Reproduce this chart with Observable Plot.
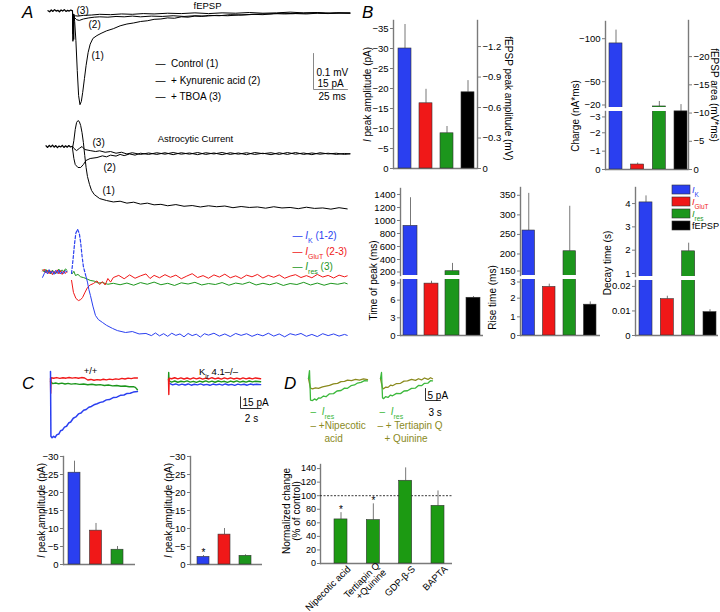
<!DOCTYPE html>
<html><head><meta charset="utf-8">
<script src="https://cdn.jsdelivr.net/npm/d3@7"></script>
<script src="https://cdn.jsdelivr.net/npm/@observablehq/plot@0.6"></script>
<style>
body{margin:0;background:#fff;}
#fig{position:relative;width:720px;height:612px;overflow:hidden;background:#fff;font-family:Arial,"Liberation Sans",Helvetica,sans-serif;}
#fig svg{position:absolute;overflow:visible;background:transparent;max-width:none;}
.letter{position:absolute;font-style:italic;font-size:17px;line-height:17px;font-family:Arial,"Liberation Sans",Helvetica,sans-serif;}
</style></head>
<body><div id="fig"></div>
<script>
// ===================== DATA =====================
// Panel A: traces [time (ms), value]; fEPSP in mV, currents in pA
const fepspPre = [[-18,0.005],[-16.8,0.002],[-15.6,0.007],[-14.4,0.003],[-13.2,0.008],[-12,0.004],[-10.8,0.006],[-9.6,0.002],[-8.4,0.007],[-7.2,0.004],[-6,0.008],[-4.8,0.003],[-3.6,0.006],[-2.4,0.004],[-1.2,0.007],[0,0.004]];
const fepspControl = [[0,0.004],[0.3,-0.08],[0.6,-0.005],[0.9,-0.075],[1.2,-0.01],[1.6,-0.025],[2.5,-0.078],[3.5,-0.161],[4.5,-0.231],[5.5,-0.256],[6.5,-0.247],[7.5,-0.222],[8.8,-0.183],[10,-0.147],[11.5,-0.111],[13,-0.088],[15,-0.072],[18,-0.064],[21,-0.058],[25,-0.051],[30,-0.045],[35,-0.037],[40,-0.032],[45,-0.029],[50,-0.025],[55,-0.023],[60,-0.019],[65,-0.018],[70,-0.015],[75,-0.016],[80,-0.012],[85,-0.013],[90,-0.010],[95,-0.011],[100,-0.008],[108,-0.009],[116,-0.006],[124,-0.007],[132,-0.005],[140,-0.006],[148,-0.003],[156,-0.004],[164,-0.003],[172,-0.004],[180,-0.002],[188,-0.003],[196,-0.001],[204,-0.002]];
const fepspKyn = [[0,0.004],[0.4,-0.06],[0.8,-0.004],[1.5,-0.014],[3,-0.02],[5,-0.022],[8,-0.018],[12,-0.015],[16,-0.013],[20,-0.012],[26,-0.013],[32,-0.011],[38,-0.012],[44,-0.010],[50,-0.012],[58,-0.010],[66,-0.011],[74,-0.009],[82,-0.011],[90,-0.009],[98,-0.010],[106,-0.008],[114,-0.009],[122,-0.007],[130,-0.006],[138,-0.004],[146,-0.004],[154,-0.002],[162,-0.003],[170,-0.002],[178,-0.001],[186,-0.002],[194,-0.001],[204,-0.002]];
const fepspTboa = [[0,0.004],[0.5,-0.04],[1,-0.006],[2,-0.009],[4,-0.010],[8,-0.008],[14,-0.007],[20,-0.005],[28,-0.006],[36,-0.004],[44,-0.005],[52,-0.003],[60,-0.004],[70,-0.002],[80,-0.003],[90,-0.001],[100,-0.003],[110,-0.001],[120,-0.002],[130,-0.000],[140,-0.002],[150,-0.001],[160,0.001],[170,-0.001],[180,0.000],[190,-0.002],[204,-0.001]];

const astroPre = [[-19.5,0.3],[-18.3,-0.4],[-17.1,0.5],[-15.9,-0.2],[-14.7,0.6],[-13.5,-0.3],[-12.3,0.4],[-11.1,-0.5],[-9.9,0.2],[-8.7,-0.2],[-7.5,0.5],[-6.3,-0.4],[-5.1,0.3],[-3.9,-0.3],[-2.7,0.4],[-1.5,-0.2],[0,0.1]];
const astroControl = [[0,-0.8],[1,2.5],[2,7.1],[3,10],[4,10.8],[5,10.4],[6,8.75],[7,5.8],[8,1.7],[9,-3.75],[10,-8.75],[11,-12.5],[12.5,-15.8],[14,-18.3],[16,-20],[20,-21.7],[25,-22.5],[30,-23.1],[35,-22.8],[40,-23.6],[45,-23.2],[50,-24.0],[55,-23.6],[60,-24.3],[65,-24.1],[70,-24.7],[76,-24.2],[82,-24.9],[88,-24.6],[94,-25.2],[100,-24.7],[106,-25.1],[112,-24.8],[118,-25.5],[124,-25.0],[130,-25.4],[136,-25.2],[142,-25.7],[148,-25.1],[154,-25.6],[160,-25.4],[166,-25.9],[172,-25.3],[178,-25.8],[184,-25.6],[190,-26.1],[196,-25.5],[202,-26.0]];
const astroKyn = [[0,-0.8],[1,-5],[2,-7.5],[4,-8.75],[6,-8.75],[8,-7.5],[10,-5.8],[13,-5],[18,-4.6],[22,-3.9],[25,-4.3],[28,-3.6],[32,-4.0],[35,-3.3],[38,-3.8],[42,-3.1],[46,-3.6],[50,-2.8],[56,-3.3],[62,-2.6],[68,-3.2],[74,-2.5],[80,-3.2],[86,-2.7],[92,-3.4],[98,-2.6],[104,-3.1],[110,-2.5],[116,-3.3],[122,-2.7],[128,-3.4],[134,-2.5],[140,-3.0],[146,-2.6],[152,-3.3],[158,-2.5],[164,-3.2],[170,-2.7],[176,-3.4],[182,-2.6],[188,-3.1],[194,-2.8],[200,-3.3],[204,-3.0]];
const astroTboa = [[0,0],[1,-0.8],[3,-1.7],[5,-0.8],[7,0],[9,-1.25],[13,-1.7],[17,-2.1],[20,-1.8],[24,-2.4],[28,-2.1],[32,-2.8],[36,-2.4],[40,-3.1],[44,-2.6],[50,-3.3],[56,-2.7],[62,-3.3],[68,-2.6],[74,-3.4],[80,-2.6],[86,-3.2],[92,-2.5],[98,-3.3],[104,-2.7],[110,-3.4],[116,-2.6],[122,-3.2],[128,-2.6],[134,-3.3],[140,-2.8],[146,-3.4],[152,-2.6],[158,-3.3],[164,-2.5],[170,-3.3],[176,-2.7],[182,-3.2],[188,-2.8],[194,-3.3],[200,-2.9],[204,-3.1]];

const subPreK = [[-22,-2],[-20.8,-0.5],[-19.6,0.8],[-18.4,-0.6],[-17.2,1.2],[-16,-0.3],[-14.8,0.6],[-13.6,-0.8],[-12.4,0.9],[-11.2,-0.4],[-10,1.0],[-8.8,-0.6],[-7.6,0.4],[-6.4,-0.5],[-5.2,0.8],[-4,0.2]];
const subPreGluT = [[-22,0.6],[-20.8,1.4],[-19.6,-0.2],[-18.4,0.9],[-17.2,-0.5],[-16,0.7],[-14.8,-0.9],[-13.6,0.5],[-12.4,-0.3],[-11.2,1.1],[-10,-0.6],[-8.8,0.8],[-7.6,-0.8],[-6.4,0.6],[-5.2,-0.4],[-4,0.5]];
const subPreRes = [[-22,1.1],[-20.8,0.2],[-19.6,1.3],[-18.4,0.1],[-17.2,0.9],[-16,-0.6],[-14.8,1.0],[-13.6,0.3],[-12.4,-0.5],[-11.2,0.6],[-10,1.4],[-8.8,0.2],[-7.6,1.1],[-6.4,0.4],[-5.2,1.5],[-4,0.9]];
const subKDashed = [[-0.7,-0.4],[0.5,6],[1.5,12],[2.5,16.5],[3.7,18],[5,16.3],[6,12.5],[7,7],[8,2.5],[9.6,-1]];
const subK = [[9.6,-1],[11,-4],[12,-7],[13.2,-9.6],[15,-14],[16.9,-17.9],[19,-19.6],[22,-20.8],[25,-22],[29.4,-23.3],[33,-24.2],[39,-25],[44,-24.6],[49,-25.6],[54,-25.4],[58,-26.3],[61,-25.2],[64,-26.4],[67,-25.5],[70,-26.6],[73,-25.3],[76,-26.2],[79,-25.6],[82,-26.8],[85,-25.4],[88,-26.3],[91,-25.7],[94,-26.9],[97,-25.5],[100,-26.1],[104,-25.3],[108,-26.5],[112,-25.6],[116,-26.7],[120,-25.4],[124,-26.2],[128,-25.5],[132,-26.6],[136,-25.7],[140,-26.4],[144,-25.3],[148,-26.5],[152,-25.6],[156,-26.8],[160,-25.5],[164,-26.1],[168,-25.4],[172,-26.6],[176,-25.8],[180,-26.7],[184,-25.5],[188,-26.3],[192,-25.6],[196,-26.5],[200,-25.8],[202,-26.2]];
const subGluT = [[-0.7,-3.3],[0.7,-8.3],[2.5,-10.8],[4.4,-11.7],[6,-11.3],[7.4,-10.4],[9,-8.5],[11,-6.25],[13,-5.2],[15.4,-4.6],[18,-3.5],[20,-5.0],[22,-3.8],[24,-5.2],[26,-2.5],[28,-4.0],[30,-2.1],[34,-1.2],[38,-2.6],[42,-1.0],[46,-2.4],[50,-1.4],[54,-0.6],[57,-2.5],[60,-1.2],[64,-2.2],[68,-0.9],[72,-2.0],[76,-1.1],[80,-2.6],[84,-1.5],[88,-0.5],[92,-2.1],[96,-1.3],[100,-2.4],[104,-1.0],[108,-1.9],[112,-0.7],[116,-2.2],[120,-1.4],[124,-2.5],[128,-1.1],[132,-1.8],[136,-0.8],[140,-2.3],[144,-1.2],[148,-2.0],[152,-1.0],[156,-2.4],[160,-1.5],[164,-0.9],[168,-2.1],[172,-1.3],[176,-2.2],[180,-0.8],[184,-1.9],[188,-1.2],[192,-2.3],[196,-1.1],[200,-1.8],[202,-1.4]];
const subRes = [[0,-0.4],[1,0.5],[2.2,-1.25],[4,-0.8],[6,-1.8],[8,-2.1],[10,-2.5],[13,-3.3],[16,-3.6],[19,-4.4],[22,-4.2],[26,-4.9],[30,-4.5],[35,-5.1],[40,-4.4],[45,-5.3],[50,-4.2],[55,-4.9],[60,-4.0],[65,-5.1],[70,-4.5],[75,-5.4],[80,-4.3],[85,-4.8],[90,-4.1],[95,-5.2],[100,-4.6],[105,-5.0],[110,-4.2],[115,-5.3],[120,-4.4],[125,-4.9],[130,-4.0],[135,-5.2],[140,-4.5],[145,-5.1],[150,-4.3],[155,-5.4],[160,-4.6],[165,-5.0],[170,-4.1],[175,-5.2],[180,-4.4],[185,-5.3],[190,-4.5],[195,-4.9],[200,-4.3],[202,-4.7]];
const scaleA = {mV: 0.1, pA: 15, ms: 25};

// Panel B: means and SEM
const groupsB = ["IK", "IGluT", "Ires", "fEPSP"];
const peakAmp_pA = [-30.0, -16.3, -8.8];          const peakAmpErr_pA = [6.0, 3.5, 1.7];
const fepspPeak_mV = [-0.75];                      const fepspPeakErr_mV = [0.115];
const charge_nAms = [-94.5, -0.27, -21.2];         const chargeErr_nAms = [15.5, 0.08, 5.8];
const fepspArea_mVms = [-10.3];                    const fepspAreaErr_mVms = [1.2];
const timeOfPeak_ms = [917, 8.8, 220, 6.4];        const timeOfPeakErr_ms = [433, 0.4, 120, 0.2];
const riseTime_ms = [260, 2.6, 207, 1.65];         const riseTimeErr_ms = [95, 0.15, 115, 0.15];
const decayTime_s = [4.05, 0.0148, 1.95, 0.0095];  const decayTimeErr_s = [0.28, 0.0012, 0.35, 0.001];

// Panel C: example traces [time (s), pA] and peak amplitudes
const wtK = [[0,9],[0.04,-74],[0.15,-76],[0.3,-74.2],[0.45,-75.6],[0.6,-72.3],[0.8,-71.2],[0.97,-67],[1.15,-66.1],[1.35,-62.3],[1.55,-61.2],[1.75,-57.1],[1.95,-55.8],[2.2,-51],[2.45,-49.3],[2.7,-45.4],[2.95,-44.2],[3.2,-40.8],[3.45,-39.7],[3.7,-36.9],[3.95,-35.8],[4.2,-33.7],[4.5,-32.4],[4.8,-30.6],[5.1,-29.7],[5.4,-27.4],[5.7,-27.0],[6.1,-24.3],[6.4,-23.9],[6.8,-21.4],[7.1,-21.2],[7.4,-19.1],[7.7,-19.0],[8.0,-17.4],[8.4,-16.8]];
const wtGluT = [[0,0],[0.02,-19],[0.06,1],[0.3,0.3],[0.6,1.2],[0.9,0.2],[1.2,1.0],[1.5,0.4],[1.8,1.3],[2.1,0.5],[2.4,1.1],[2.7,0.3],[3.0,1.2],[3.3,0.6],[3.6,-1.9],[3.9,-1.2],[4.2,-2.3],[4.5,-1.4],[4.8,-2.0],[5.1,-1.0],[5.4,-1.8],[5.7,-0.8],[6.0,-1.5],[6.3,-0.5],[6.6,-1.1],[6.9,0.1],[7.2,-0.6],[7.5,0.5],[7.8,-0.2],[8.1,0.8],[8.4,0.6]];
const wtRes = [[0,-4],[0.2,-6.5],[0.5,-5.8],[0.8,-6.8],[1.1,-6.0],[1.4,-7.0],[1.7,-6.2],[2.0,-7.2],[2.4,-6.6],[2.8,-7.6],[3.2,-7.0],[3.6,-8.0],[4.0,-7.4],[4.4,-8.4],[4.8,-7.9],[5.2,-8.9],[5.6,-8.4],[6.0,-9.4],[6.4,-8.9],[6.8,-9.9],[7.2,-9.6],[7.6,-10.6],[8.0,-10.4],[8.2,-11.4],[8.4,-14.5]];
const kirK = [[0.15,-6.5],[0.4,-8.2],[0.7,-7.0],[1.0,-8.5],[1.3,-7.2],[1.6,-8.3],[1.9,-7.0],[2.2,-8.6],[2.5,-7.4],[2.8,-8.1],[3.1,-6.9],[3.4,-8.4],[3.7,-7.5],[4.0,-8.7],[4.3,-7.1],[4.6,-8.2],[4.9,-7.3],[5.2,-8.5],[5.5,-7.0],[5.8,-8.3],[6.1,-7.6],[6.4,-8.8],[6.7,-7.2],[7.0,-8.1],[7.3,-7.4],[7.6,-8.6],[7.9,-7.1],[8.2,-8.0],[8.5,-7.3],[8.9,-7.9]];
const kirGluT = [[0,-1],[0.03,-20.5],[0.07,0.5],[0.3,-0.3],[0.6,1.0],[0.9,-0.5],[1.2,0.8],[1.5,-0.6],[1.8,0.6],[2.1,-0.8],[2.4,0.9],[2.7,-0.4],[3.0,0.7],[3.3,-0.7],[3.6,0.5],[3.9,-0.6],[4.2,1.0],[4.5,-0.4],[4.8,0.6],[5.1,-0.8],[5.4,0.7],[5.7,-0.5],[6.0,0.9],[6.3,-0.6],[6.6,0.4],[6.9,-0.7],[7.2,0.8],[7.5,-0.4],[7.8,0.6],[8.1,-0.5],[8.4,0.7],[8.9,-0.3]];
const kirRes = [[0,-2],[0.02,7.7],[0.05,-3],[0.3,-4.6],[0.6,-3.2],[0.9,-4.8],[1.2,-3.5],[1.5,-4.4],[1.8,-3.1],[2.1,-4.7],[2.4,-3.6],[2.7,-4.9],[3.0,-3.3],[3.3,-4.5],[3.6,-3.0],[3.9,-4.6],[4.2,-3.4],[4.5,-4.8],[4.8,-3.2],[5.1,-4.4],[5.4,-3.6],[5.7,-4.9],[6.0,-3.3],[6.3,-4.5],[6.6,-3.1],[6.9,-4.7],[7.2,-3.5],[7.5,-4.6],[7.8,-3.2],[8.1,-4.4],[8.4,-3.6],[8.9,-4.2]];
const scaleC = {pA: 15, s: 2};
const groupsC = ["IK", "IGluT", "Ires"];
const wtPeak_pA = [-25.5, -9.4, -4.1];   const wtPeakErr_pA = [3.2, 2.0, 0.9];
const kirPeak_pA = [-2.1, -8.3, -2.4];   const kirPeakErr_pA = [0.4, 1.7, 0.3];
const kirSig = ["*", "", ""];

// Panel D: example traces [time (s), pA] and normalized changes
const resNip = [[0,0],[0.2,3.3],[0.4,-9],[0.8,-9.2],[1.2,-8.5],[1.6,-9.0],[2.0,-8.1],[2.4,-8.2],[3.0,-7.3],[3.5,-7.6],[4.2,-6.4],[5.0,-6.3],[5.7,-5.2],[6.5,-5.0],[7.2,-4.0],[7.8,-4.1],[8.5,-3.0],[9.2,-2.7],[9.8,-1.9],[10.5,-1.6],[11.2,-0.9],[11.8,-1.0]];
const nipecotic = [[0,0],[0.4,-4],[0.8,-4.3],[1.4,-3.9],[2.0,-4.1],[2.8,-3.5],[3.5,-3.2],[4.2,-2.9],[5.0,-2.2],[5.8,-2.0],[6.5,-1.3],[7.2,-1.2],[7.8,-0.7],[8.6,-0.9],[9.4,-0.4],[10.2,-0.7],[11.0,-0.2],[11.8,-0.5]];
const resTQ = [[0,0],[0.2,2.5],[0.4,-8],[0.6,-8.4],[1.0,-7.6],[1.5,-7.9],[2.0,-6.9],[2.4,-7.2],[3.2,-6.2],[4.0,-6.3],[4.7,-5.2],[5.4,-5.1],[6.2,-4.1],[7.0,-4.0],[7.6,-2.9],[8.2,-3.0],[8.8,-2.0],[9.5,-1.9],[10.0,-0.9],[10.4,-1.0]];
const tertiapinQuinine = [[0,0],[0.4,-4],[0.6,-4.3],[1.0,-3.6],[1.5,-3.7],[2.0,-2.8],[2.4,-3.0],[3.2,-2.1],[4.0,-2.0],[4.7,-1.1],[5.4,-1.0],[6.2,-0.4],[7.0,-0.8],[7.6,-0.1],[8.2,-0.6],[8.8,0.2],[9.5,-0.4],[10.0,0.3],[10.4,-0.1]];
const scaleD = {pA: 5, s: 3};
const drugsD = ["Nipecotic acid", "Tertiapin Q\n+Quinine", "GDP-\u03b2-S", "BAPTA"];
const normChange_pct = [65, 64, 122, 85];
const normChangeErr_pct = [10, 24, 19, 22];
const drugSig = ["*", "*", "", ""];
const controlLevel_pct = [100];

// ===================== STYLE =====================
const FONT = "Arial, 'Liberation Sans', Helvetica, sans-serif";
const colB = {IK: "#2a3ff0", IGluT: "#f01818", Ires: "#1c961c", fEPSP: "#000000"};
const labB = {IK: "<i>I</i><sub>K</sub>", IGluT: "<i>I</i><sub>GluT</sub>", Ires: "<i>I</i><sub>res</sub>", fEPSP: "fEPSP"};
const GREEN_D = "#1c9a12", RES_GREEN = "#3cb83c", OLIVE = "#8a8a1e";
const AXIS = "#7a7a7a";
const TICK_FS = 9.5;
const fig = document.getElementById("fig");

function richify(root) {
  root.querySelectorAll("text, tspan").forEach(el => {
    if (el.children.length) return;
    const s = el.textContent;
    if (!/<(i|sub)>/.test(s)) return;
    el.textContent = "";
    s.split(/(<i>[^<]*<\/i>|<sub>[^<]*<\/sub>)/).forEach(part => {
      if (!part) return;
      const t = document.createElementNS("http://www.w3.org/2000/svg", "tspan");
      let m;
      if ((m = part.match(/^<i>([^<]*)<\/i>$/))) { t.setAttribute("font-style", "italic"); t.textContent = m[1]; }
      else if ((m = part.match(/^<sub>([^<]*)<\/sub>$/))) { t.setAttribute("font-size", "70%"); t.setAttribute("baseline-shift", "sub"); t.textContent = m[1]; }
      else t.textContent = part;
      el.appendChild(t);
    });
  });
}
function mk({left, top, width, height, m = [0, 0, 0, 0], x, y, marks}) {
  const svg = Plot.plot({
    width, height, marginTop: m[0], marginRight: m[1], marginBottom: m[2], marginLeft: m[3],
    x, y, color: {type: "identity"},
    style: {background: "transparent", overflow: "visible", fontFamily: FONT, fontSize: "10px", color: "#000", maxWidth: "none"},
    marks
  });
  svg.style.position = "absolute"; svg.style.left = left + "px"; svg.style.top = top + "px";
  richify(svg);
  fig.appendChild(svg);
}
function framed({fx0, fx1, fy0, fy1, x, y, marks, pad = 50}) {
  mk({left: fx0 - pad, top: fy0 - pad, width: fx1 - fx0 + 2 * pad, height: fy1 - fy0 + 2 * pad, m: [pad, pad, pad, pad], x, y, marks});
}
// page-positioned annotation relative to a frame origin
const annAt = (fx0, fy0) => (text, px, py, o = {}) =>
  Plot.text([text], {text: d => d, frameAnchor: "top-left", dx: px - fx0, dy: py - fy0, textAnchor: "start", lineAnchor: "middle", fontSize: 10, ...o});
function traces({left, top, width, height, ox, kx, oy, ky, marks}) {
  mk({left, top, width, height,
      x: {domain: [(left - ox) / kx, (left + width - ox) / kx], axis: null},
      y: {domain: [(oy - top - height) / ky, (oy - top) / ky], axis: null}, marks});
}
const bandX = (domain, R, Lo, Ro, bw, axis = null) => {
  const n = domain.length, step = (R - Lo - Ro - bw) / (n - 1), pi = 1 - bw / step;
  return {type: "band", domain, paddingInner: pi, paddingOuter: (R / step - n + pi) / 2, align: Lo / (Lo + Ro), round: false, axis};
};
const fmt = d => d === 0 ? "0" : (d < 0 ? "\u2212" + Math.abs(d) : String(d));
const yAx = (ticks, anchor = "left", extra = {}) => Plot.axisY({anchor, ticks, tickFormat: fmt, tickSize: 3, tickPadding: 2, stroke: AXIS, fontSize: TICK_FS, label: null, ...extra});
// axis with the tick next to a break nudged away from the break
const yAxBreak = (ticks, edgeTick, nudge) => [yAx(ticks.filter(t => t !== edgeTick)), yAx([edgeTick], "left", {dy: nudge})];
const axLine = (anchor = "left") => Plot.frame({anchor, stroke: AXIS, strokeWidth: 1.4});
const zeroLine = () => Plot.ruleY([0], {stroke: AXIS, strokeWidth: 1.4});
const vlabel = (text, side, dx, dy = 0, rotate = side === "left" ? -90 : 90) =>
  Plot.text([text], {text: d => d, frameAnchor: side, rotate, dx, dy, textAnchor: "middle", lineAnchor: "middle", fontSize: 10});
const rowsOf = (cats, vals, errs, sig) => vals.map((v, i) => ({c: cats[i], v, e: errs[i], s: sig ? sig[i] : ""}));
function bars(r, clip = false, fillOf = d => colB[d.c]) {
  return [
    Plot.ruleX(r, {x: "c", y1: "v", y2: d => d.v + Math.sign(d.v) * d.e, stroke: "#777", strokeWidth: 1, clip}),
    Plot.barY(r, {x: "c", y1: () => 0, y2: "v", fill: fillOf, stroke: "#333", strokeWidth: 0.6, clip})
  ];
}

// ===================== PANEL A =====================
{
  const L = 40, W = 320, ox = 72, kx = 1.36;
  // fEPSP
  const t0 = 0, oyF = 12, kyF = 360;
  const a = annAt(L, t0);
  const sbT = (313 - ox) / kx, sbV = -(89 - oyF) / kyF;
  traces({left: L, top: t0, width: W, height: 112, ox, kx, oy: oyF, ky: kyF, marks: [
    Plot.line(fepspPre, {stroke: "#000", strokeWidth: 1.3}),
    Plot.line(fepspTboa, {stroke: "#000", strokeWidth: 1}),
    Plot.line(fepspKyn, {stroke: "#000", strokeWidth: 1}),
    Plot.line(fepspControl, {stroke: "#000", strokeWidth: 1}),
    Plot.line([[sbT, sbV + scaleA.mV], [sbT, sbV], [sbT + scaleA.ms, sbV]], {stroke: "#888", strokeWidth: 1}),
    a("fEPSP", 207, 5, {textAnchor: "middle", fontSize: 9.5}),
    a("(3)", 76, 10), a("(2)", 88, 24), a("(1)", 91, 55),
    a("\u2014  Control (1)", 155, 63), a("\u2014  + Kynurenic acid (2)", 155, 80), a("\u2014  + TBOA (3)", 155, 96),
    a("0.1 mV", 316, 72), a("15 pA", 317, 83), a("25 ms", 318, 96)
  ]});
  // Astrocytic current
  const tA = 112, oyA = 146, kyA = 2.4;
  const b = annAt(L, tA);
  traces({left: L, top: tA, width: W, height: 104, ox, kx, oy: oyA, ky: kyA, marks: [
    Plot.line(astroPre, {stroke: "#000", strokeWidth: 1.2}),
    Plot.line(astroTboa, {stroke: "#000", strokeWidth: 1}),
    Plot.line(astroKyn, {stroke: "#000", strokeWidth: 1}),
    Plot.line(astroControl, {stroke: "#000", strokeWidth: 1}),
    b("Astrocytic Current", 195, 138, {textAnchor: "middle", fontSize: 9.5}),
    b("(3)", 92, 142), b("(2)", 103, 167), b("(1)", 102, 190)
  ]});
  // Subtracted currents
  const tS = 216, oyS = 272, kyS = 2.4;
  const c = annAt(L, tS);
  traces({left: L, top: tS, width: W, height: 130, ox, kx, oy: oyS, ky: kyS, marks: [
    Plot.line(subPreRes, {stroke: colB.Ires, strokeWidth: 1}),
    Plot.line(subPreGluT, {stroke: colB.IGluT, strokeWidth: 1}),
    Plot.line(subPreK, {stroke: colB.IK, strokeWidth: 1}),
    Plot.line(subRes, {stroke: colB.Ires, strokeWidth: 1}),
    Plot.line(subGluT, {stroke: colB.IGluT, strokeWidth: 1}),
    Plot.line(subK, {stroke: colB.IK, strokeWidth: 1}),
    Plot.line(subKDashed, {stroke: colB.IK, strokeWidth: 1.2, strokeDasharray: "3,2"}),
    c("\u2014 <i>I</i><sub>K</sub> (1-2)", 292, 235, {fill: colB.IK}),
    c("\u2014 <i>I</i><sub>GluT</sub> (2-3)", 292, 251, {fill: colB.IGluT}),
    c("\u2014 <i>I</i><sub>res</sub> (3)", 292, 266, {fill: colB.Ires})
  ]});
}

// ===================== PANEL B =====================
{
  // B1 peak amplitude
  const f = {fx0: 393, fx1: 477, fy0: 20, fy1: 168};
  const x = bandX(groupsB, 84, 5, 3, 13);
  framed({...f, x, y: {domain: [0, -37]}, marks: [
    axLine("left"), zeroLine(), yAx([0, -5, -10, -15, -20, -25, -30, -35]),
    ...bars(rowsOf(groupsB, peakAmp_pA, peakAmpErr_pA)),
    vlabel("<i>I</i> peak amplitude (pA)", "left", -26)
  ]});
  framed({...f, x, y: {domain: [0, -37 / 25.4]}, marks: [
    axLine("right"), yAx([0, -0.3, -0.6, -0.9, -1.2], "right"),
    ...bars(rowsOf(["fEPSP"], fepspPeak_mV, fepspPeakErr_mV)),
    vlabel("fEPSP peak amplitude (mV)", "right", 31, 4)
  ]});
}
{
  // B2 charge (broken axis)
  const x = bandX(groupsB, 83, 4, 1, 13);
  const r = rowsOf(groupsB, charge_nAms, chargeErr_nAms);
  framed({fx0: 605, fx1: 688, fy0: 21, fy1: 107, x, y: {domain: [-20, -120]}, marks: [
    axLine("left"), ...yAxBreak([-20, -50, -100], -20, -2.5), ...bars(r, true)
  ]});
  framed({fx0: 605, fx1: 688, fy0: 111, fy1: 169, x, y: {domain: [0, -3.16]}, marks: [
    axLine("left"), zeroLine(), ...yAxBreak([0, -1, -2, -3], -3, 2.5), ...bars(r, true)
  ]});
  framed({fx0: 605, fx1: 688, fy0: 20, fy1: 169, x, y: {domain: [0, -26.4]}, marks: [
    axLine("right"), yAx([0, -5, -10, -15, -20], "right"),
    ...bars(rowsOf(["fEPSP"], fepspArea_mVms, fepspAreaErr_mVms)),
    vlabel("Charge (nA*ms)", "left", -30, 21),
    vlabel("fEPSP area (mV*ms)", "right", 26, 0)
  ]});
}
function broken({fx0, fx1, up, lo, x, vals, errs, upTicks, loTicks, label, ldx, ldy, nudge = 0}) {
  const r = rowsOf(groupsB, vals, errs);
  framed({fx0, fx1, fy0: up[0], fy1: up[1], x, y: {domain: up[2]}, marks: [axLine("left"), ...yAxBreak(upTicks, upTicks[0], -nudge), ...bars(r, true)]});
  framed({fx0, fx1, fy0: lo[0], fy1: lo[1], x, y: {domain: lo[2]}, marks: [axLine("left"), zeroLine(), ...yAxBreak(loTicks, loTicks[loTicks.length - 1], nudge), ...bars(r, true), vlabel(label, "left", ldx, ldy)]});
}
broken({fx0: 400, fx1: 483, up: [188, 275, [154, 1492]], lo: [279, 335, [0, 9.5]], x: bandX(groupsB, 83, 3, 3, 14),
  vals: timeOfPeak_ms, errs: timeOfPeakErr_ms, upTicks: [200, 400, 600, 800, 1000, 1200, 1400], loTicks: [0, 3, 6, 9],
  label: "Time of peak (ms)", ldx: -27, ldy: -27, nudge: 0.5});
broken({fx0: 520, fx1: 600, up: [187, 275, [145, 370]], lo: [279, 335, [0, 3.0]], x: bandX(groupsB, 80, 2, 4, 12.5),
  vals: riseTime_ms, errs: riseTimeErr_ms, upTicks: [150, 200, 250, 300, 350], loTicks: [0, 1, 2, 3],
  label: "Rise time (ms)", ldx: -28, ldy: -10, nudge: 2.5});
broken({fx0: 635, fx1: 718, up: [187, 276, [0.87, 4.69]], lo: [280, 335, [0, 0.0224]], x: bandX(groupsB, 83, 4, 2, 13),
  vals: decayTime_s, errs: decayTimeErr_s, upTicks: [1, 2, 3, 4], loTicks: [0, 0.01, 0.02],
  label: "Decay time (s)", ldx: -28, ldy: -45});
// B legend
mk({left: 672, top: 184, width: 48, height: 46, m: [0, 30, 0, 0],
  x: {type: "band", domain: ["sw"], padding: 0, axis: null},
  y: {type: "band", domain: groupsB, paddingInner: 0.27, paddingOuter: 0, axis: null},
  marks: [
    Plot.cell(groupsB, {x: () => "sw", y: d => d, fill: d => colB[d], stroke: "#333", strokeWidth: 0.6}),
    Plot.text(groupsB, {x: () => "sw", y: d => d, text: d => labB[d], dx: 10.5, textAnchor: "start", fill: d => colB[d], fontSize: 9.2})
  ]});

// ===================== PANEL C =====================
{
  const kx = 10.35, ky = 0.78, oy = 378;
  const a = annAt(45, 362);
  traces({left: 45, top: 362, width: 100, height: 80, ox: 50, kx, oy, ky, marks: [
    Plot.line(wtRes, {stroke: colB.Ires, strokeWidth: 1.4}),
    Plot.line(wtGluT, {stroke: colB.IGluT, strokeWidth: 1.4}),
    Plot.line(wtK, {stroke: colB.IK, strokeWidth: 1.5}),
    a("+/+", 90, 370, {textAnchor: "middle", fontSize: 9.5})
  ]});
  const b = annAt(160, 362);
  const ox2 = 168, sbT = (240 - ox2) / kx, sbV = -(408 - oy) / ky;
  traces({left: 160, top: 362, width: 110, height: 64, ox: ox2, kx, oy, ky, marks: [
    Plot.line(kirK, {stroke: colB.IK, strokeWidth: 1.4}),
    Plot.line(kirRes, {stroke: colB.Ires, strokeWidth: 1.4}),
    Plot.line(kirGluT, {stroke: colB.IGluT, strokeWidth: 1.4}),
    Plot.line([[sbT, sbV + scaleC.pA], [sbT, sbV], [sbT + scaleC.s, sbV]], {stroke: "#333", strokeWidth: 1}),
    b("K<sub>ir</sub> 4.1\u2013/\u2013", 218, 371, {textAnchor: "middle", fontSize: 9.5}),
    b("15 pA", 242, 402), b("2 s", 251, 418, {textAnchor: "middle"})
  ]});
  const yC = {domain: [0, -30]};
  framed({fx0: 63, fx1: 135, fy0: 456, fy1: 564, x: bandX(groupsC, 72, 5, 12, 12), y: yC, marks: [
    axLine("left"), zeroLine(), yAx([0, -5, -10, -15, -20, -25, -30]),
    ...bars(rowsOf(groupsC, wtPeak_pA, wtPeakErr_pA)),
    vlabel("<i>I</i> peak amplitude (pA)", "left", -22)
  ]});
  const rk = rowsOf(groupsC, kirPeak_pA, kirPeakErr_pA, kirSig);
  framed({fx0: 190, fx1: 262, fy0: 456, fy1: 564, x: bandX(groupsC, 72, 7, 11, 12), y: yC, marks: [
    axLine("left"), zeroLine(), yAx([0, -5, -10, -15, -20, -25, -30]),
    ...bars(rk),
    Plot.text(rk, {x: "c", y: d => d.v - d.e, text: "s", dy: -3, fontSize: 10}),
    vlabel("<i>I</i> peak amplitude (pA)", "left", -22)
  ]});
}

// ===================== PANEL D =====================
{
  const kx = 5, ky = 2.4, oy = 378;
  const a = annAt(300, 362);
  traces({left: 300, top: 362, width: 75, height: 82, ox: 308, kx, oy, ky, marks: [
    Plot.line(nipecotic, {stroke: OLIVE, strokeWidth: 1.3}),
    Plot.line(resNip, {stroke: RES_GREEN, strokeWidth: 1.3}),
    a("\u2013  <i>I</i><sub>res</sub>", 310, 411, {fill: RES_GREEN}),
    a("\u2013 +Nipecotic", 310, 425, {fill: OLIVE}),
    a("acid", 324, 438, {fill: OLIVE})
  ]});
  const b = annAt(374, 362);
  const ox2 = 380, sbT = (425 - ox2) / kx, sbV = -(400 - oy) / ky;
  traces({left: 374, top: 362, width: 76, height: 82, ox: ox2, kx, oy, ky, marks: [
    Plot.line(tertiapinQuinine, {stroke: OLIVE, strokeWidth: 1.3}),
    Plot.line(resTQ, {stroke: RES_GREEN, strokeWidth: 1.3}),
    Plot.line([[sbT, sbV + scaleD.pA], [sbT, sbV], [sbT + scaleD.s, sbV]], {stroke: "#333", strokeWidth: 1}),
    b("5 pA", 427, 395), b("3 s", 428, 412),
    b("\u2013  <i>I</i><sub>res</sub>", 379, 411, {fill: RES_GREEN}),
    b("\u2013 + Tertiapin Q", 377, 425, {fill: OLIVE}),
    b("+ Quinine", 384, 438, {fill: OLIVE})
  ]});
  const rd = rowsOf(drugsD, normChange_pct, normChangeErr_pct, drugSig);
  framed({fx0: 320, fx1: 452, fy0: 464, fy1: 563, x: bandX(drugsD, 132, 14, 8, 13, undefined), y: {domain: [0, 146]}, marks: [
    axLine("left"), zeroLine(),
    Plot.axisY({anchor: "left", ticks: [0, 20, 40, 60, 80, 100, 120, 140], tickFormat: fmt, tickSize: 3, tickPadding: 1.5, stroke: AXIS, fontSize: 9, label: null}),
    Plot.ruleY(controlLevel_pct, {stroke: "#222", strokeWidth: 0.9, strokeDasharray: "2,1.5"}),
    ...bars(rd, false, () => GREEN_D),
    Plot.text(rd, {x: "c", y: d => d.v + d.e, text: "s", dy: -3, fontSize: 10}),
    Plot.axisX({anchor: "bottom", tickRotate: -45, tickSize: 0, tickPadding: 4, dx: 8, fontSize: 9.5, label: null}),
    vlabel("Normalized change\n(% of control)", "left", -29, -3)
  ]});
}

// ===================== PANEL LETTERS =====================
[["A", 22, 4], ["B", 362, 4], ["C", 22, 375], ["D", 284, 375]].forEach(([t, l, tp]) => {
  const d = document.createElement("div");
  d.className = "letter"; d.textContent = t; d.style.left = l + "px"; d.style.top = tp + "px";
  fig.appendChild(d);
});
</script></body></html>
